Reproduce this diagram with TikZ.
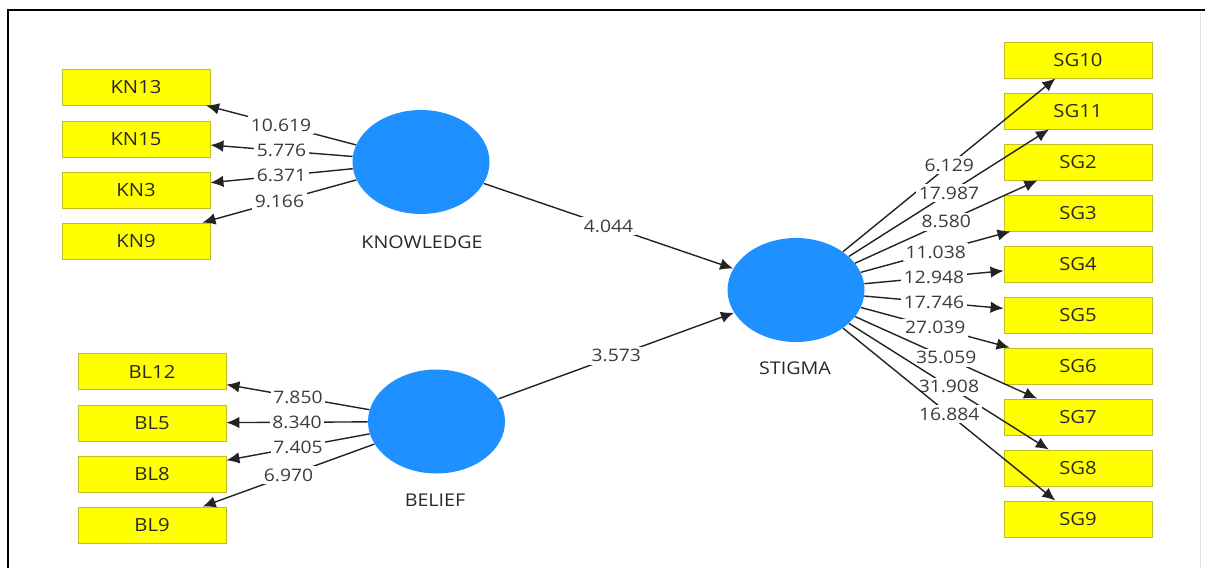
\documentclass[tikz,border=0pt]{standalone}
\usepackage{fontspec}
\setmainfont{Open Sans}[FakeStretch=1.12]
\usetikzlibrary{shapes.geometric,arrows.meta}
\definecolor{lvblue}{RGB}{30,144,255}
\definecolor{itemyellow}{RGB}{255,255,0}
\definecolor{itemline}{RGB}{190,190,40}
\definecolor{txtgray}{RGB}{40,40,40}
\definecolor{labgray}{RGB}{60,60,60}
\definecolor{linegray}{RGB}{35,35,35}
\tikzset{
  item/.style={draw=itemline, fill=itemyellow, line width=0.5pt, minimum width=2.96cm, minimum height=0.72cm, inner sep=0pt, text=txtgray, font=\fontsize{10.3}{12}\selectfont},
  latent/.style={ellipse, fill=lvblue, minimum width=2.74cm, minimum height=2.08cm, inner sep=0pt},
  lvname/.style={text=txtgray, font=\fontsize{10}{12}\selectfont},
  load/.style={draw=linegray, line width=0.8pt, -{Latex[length=2.6mm,width=2.3mm]}},
  coef/.style={fill=white, inner sep=1.5pt, text=labgray, font=\fontsize{9.8}{12}\selectfont},
}
\begin{document}
\begin{tikzpicture}
\useasboundingbox (0,0) rectangle (24.1,11.36);
% frame
\draw[line width=1.7pt] (0.16,0) -- (0.16,11.16) -- (24.1,11.16);
\draw[black!12, line width=0.4pt] (24.0,0) -- (24.0,11.1);

% latent variables
\node[latent] (know) at (8.42,8.12) {};
\node[latent] (belief) at (8.73,2.93) {};
\node[latent] (stigma) at (15.92,5.56) {};
\node[lvname] at (8.44,6.52) {KNOWLEDGE};
\node[lvname] at (8.70,1.36) {BELIEF};
\node[lvname] at (15.90,4.00) {STIGMA};

% knowledge items
\node[item] (kn13) at (2.72,9.62) {KN13};
\node[item] (kn15) at (2.72,8.58) {KN15};
\node[item] (kn3) at (2.72,7.56) {KN3};
\node[item] (kn9) at (2.72,6.54) {KN9};

% belief items
\node[item] (bl12) at (3.04,3.93) {BL12};
\node[item] (bl5) at (3.04,2.90) {BL5};
\node[item] (bl8) at (3.04,1.88) {BL8};
\node[item] (bl9) at (3.04,0.86) {BL9};

% stigma items
\node[item] (sg10) at (21.56,10.16) {SG10};
\node[item] (sg11) at (21.56,9.14) {SG11};
\node[item] (sg2) at (21.56,8.12) {SG2};
\node[item] (sg3) at (21.56,7.10) {SG3};
\node[item] (sg4) at (21.56,6.08) {SG4};
\node[item] (sg5) at (21.56,5.06) {SG5};
\node[item] (sg6) at (21.56,4.04) {SG6};
\node[item] (sg7) at (21.56,3.02) {SG7};
\node[item] (sg8) at (21.56,2.00) {SG8};
\node[item] (sg9) at (21.56,0.98) {SG9};

% loadings
\draw[load] (know) -- node[coef] {10.619} (kn13);
\draw[load] (know) -- node[coef] {5.776} (kn15);
\draw[load] (know) -- node[coef] {6.371} (kn3);
\draw[load] (know) -- node[coef] {9.166} (kn9);
\draw[load] (belief) -- node[coef] {7.850} (bl12);
\draw[load] (belief) -- node[coef] {8.340} (bl5);
\draw[load] (belief) -- node[coef] {7.405} (bl8);
\draw[load] (belief) -- node[coef] {6.970} (bl9);
\draw[load] (stigma) -- node[coef] {6.129} (sg10);
\draw[load] (stigma) -- node[coef] {17.987} (sg11);
\draw[load] (stigma) -- node[coef] {8.580} (sg2);
\draw[load] (stigma) -- node[coef] {11.038} (sg3);
\draw[load] (stigma) -- node[coef] {12.948} (sg4);
\draw[load] (stigma) -- node[coef] {17.746} (sg5);
\draw[load] (stigma) -- node[coef] {27.039} (sg6);
\draw[load] (stigma) -- node[coef] {35.059} (sg7);
\draw[load] (stigma) -- node[coef] {31.908} (sg8);
\draw[load] (stigma) -- node[coef] {16.884} (sg9);

% paths
\draw[load] (know) -- node[coef] {4.044} (stigma);
\draw[load] (belief) -- node[coef] {3.573} (stigma);
\end{tikzpicture}
\end{document}
